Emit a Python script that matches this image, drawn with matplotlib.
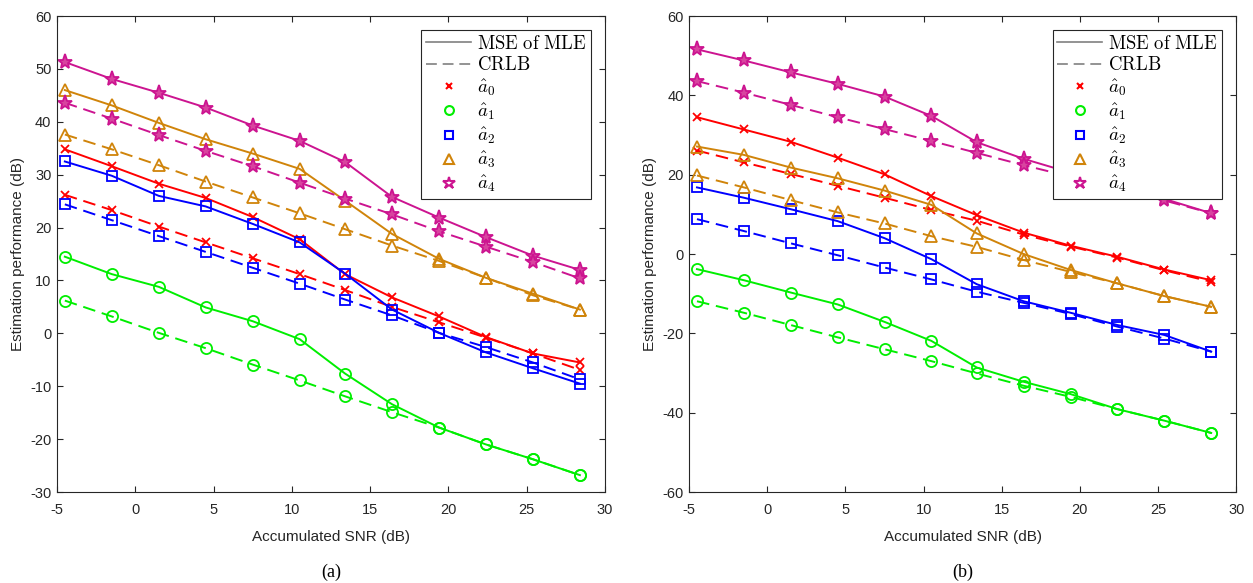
import matplotlib
matplotlib.use("Agg")
import matplotlib.pyplot as plt
from matplotlib.lines import Line2D

plt.rcParams['font.family'] = ['Liberation Sans', 'DejaVu Sans']
plt.rcParams['mathtext.fontset'] = 'cm'
plt.rcParams['axes.unicode_minus'] = False

snr = [-4.5, -1.5, 1.5, 4.5, 7.5, 10.5, 13.4, 16.4, 19.4, 22.4, 25.4, 28.4]

# panel (a)
a_mse = [
    [34.8, 31.6, 28.3, 25.6, 22.0, 17.8, 11.2, 6.8, 3.2, -0.7, -3.8, -5.5],
    [14.5, 11.2, 8.8, 4.9, 2.3, -1.1, -7.6, -13.4, -17.8, -21.0, -23.8, -26.8],
    [32.5, 29.8, 26.0, 24.0, 20.7, 17.2, 11.3, 4.5, 0.1, -3.6, -6.6, -9.5],
    [46.0, 43.1, 39.8, 36.7, 34.0, 31.1, 25.1, 18.8, 14.1, 10.5, 7.5, 4.5],
    [51.3, 48.1, 45.5, 42.7, 39.3, 36.4, 32.4, 25.8, 21.9, 18.2, 14.7, 12.0],
]
a_crlb = [
    [26.2, 23.3, 20.2, 17.2, 14.2, 11.2, 8.2, 5.0, 2.1, -0.8, -3.8, -6.9],
    [6.2, 3.2, 0.1, -2.8, -5.9, -8.9, -11.9, -14.9, -17.8, -21.0, -23.8, -26.8],
    [24.4, 21.4, 18.4, 15.4, 12.4, 9.4, 6.4, 3.4, 0.1, -2.6, -5.5, -8.7],
    [37.6, 34.8, 31.8, 28.7, 25.7, 22.7, 19.7, 16.6, 13.7, 10.5, 7.2, 4.5],
    [43.6, 40.6, 37.5, 34.5, 31.6, 28.5, 25.5, 22.5, 19.3, 16.4, 13.5, 10.4],
]

# panel (b)
b_mse = [
    [34.5, 31.4, 28.3, 24.3, 20.1, 14.6, 9.8, 5.4, 2.1, -0.7, -3.9, -6.6],
    [-3.8, -6.6, -9.7, -12.7, -17.1, -21.9, -28.6, -32.2, -35.3, -39.1, -42.0, -45.1],
    [16.8, 14.2, 11.3, 8.3, 4.0, -1.3, -7.6, -11.9, -14.8, -17.9, -20.4, -24.6],
    [27.1, 25.0, 21.8, 19.1, 16.0, 12.4, 5.2, 0.0, -4.0, -7.4, -10.6, -13.3],
    [51.6, 48.8, 45.8, 42.9, 39.7, 34.8, 28.2, 24.0, 20.5, 17.2, 13.9, 10.3],
]
b_crlb = [
    [26.1, 23.1, 20.2, 17.2, 14.2, 11.1, 8.4, 4.9, 1.9, -0.9, -4.1, -7.0],
    [-11.9, -14.8, -17.9, -21.0, -24.0, -27.0, -30.1, -33.2, -36.0, -39.1, -42.0, -45.1],
    [8.8, 5.8, 2.7, -0.3, -3.4, -6.4, -9.5, -12.3, -15.1, -18.3, -21.3, -24.6],
    [19.8, 16.8, 13.6, 10.5, 7.7, 4.5, 1.8, -1.5, -4.5, -7.4, -10.6, -13.3],
    [43.6, 40.7, 37.6, 34.5, 31.5, 28.5, 25.5, 22.4, 19.5, 16.6, 13.5, 10.3],
]

labels = [r'$\hat{a}_0$', r'$\hat{a}_1$', r'$\hat{a}_2$', r'$\hat{a}_3$', r'$\hat{a}_4$']
colors = ['#ff0000', '#00ee00', '#0000ff', '#d0840a', '#cc1490']
markers = ['x', 'o', 's', '^', '*']
msizes = [6, 8, 6.5, 9, 11]
fills = ['none', 'none', 'none', 'none', '#d8449f']
dash = (0, (6.5, 3.5))


def draw_panel(ax, mse, crlb, yticks, caption):
    for i in range(5):
        ax.plot(snr, mse[i], color=colors[i], lw=1.4, marker=markers[i],
                ms=msizes[i], mfc=fills[i], mew=1.3)
        ax.plot(snr, crlb[i], color=colors[i], lw=1.4, ls=dash, marker=markers[i],
                ms=msizes[i], mfc=fills[i], mew=1.3)
    ax.set_xlim(-5, 30)
    ax.set_ylim(yticks[0], yticks[-1])
    ax.set_xticks(range(-5, 31, 5))
    ax.set_yticks(yticks)
    ax.tick_params(direction='in', top=True, right=True, labelsize=10.5,
                   colors='#262626', length=4)
    ax.tick_params(axis='x', pad=8)
    ax.tick_params(axis='y', pad=4)
    for s in ax.spines.values():
        s.set_color('#262626')
        s.set_linewidth(0.8)
    ax.set_xlabel('Accumulated SNR (dB)', fontsize=11, color='#262626', labelpad=9)
    ax.set_ylabel('Estimation performance (dB)', fontsize=11, color='#262626', labelpad=4)

    handles = [Line2D([], [], color='#808080', lw=1.2),
               Line2D([], [], color='#808080', lw=1.2, ls=dash)]
    for i in range(5):
        handles.append(Line2D([], [], ls='none', color=colors[i], marker=markers[i],
                              ms=msizes[i] * 0.8, mfc='none', mew=1.5))
    names = [r'$\mathrm{MSE\ of\ MLE}$', r'$\mathrm{CRLB}$'] + labels
    leg = ax.legend(handles, names, loc='upper right', fontsize=13.5,
                    fancybox=False, edgecolor='#262626', framealpha=1,
                    borderaxespad=0.75, handlelength=2.4, labelspacing=0.18,
                    handletextpad=0.3, borderpad=0.25)
    leg.get_frame().set_linewidth(0.8)
    ax.text(0.5, -0.151, caption, transform=ax.transAxes, ha='center', va='top',
            fontsize=13, family='Liberation Serif')


fig = plt.figure(figsize=(12.53, 5.83), dpi=100)
ax1 = fig.add_axes([0.0455, 0.156, 0.4373, 0.8165])
ax2 = fig.add_axes([0.550, 0.156, 0.4366, 0.8165])

draw_panel(ax1, a_mse, a_crlb, list(range(-30, 61, 10)), '(a)')
draw_panel(ax2, b_mse, b_crlb, list(range(-60, 61, 20)), '(b)')

fig.savefig('out.png', dpi=100)
